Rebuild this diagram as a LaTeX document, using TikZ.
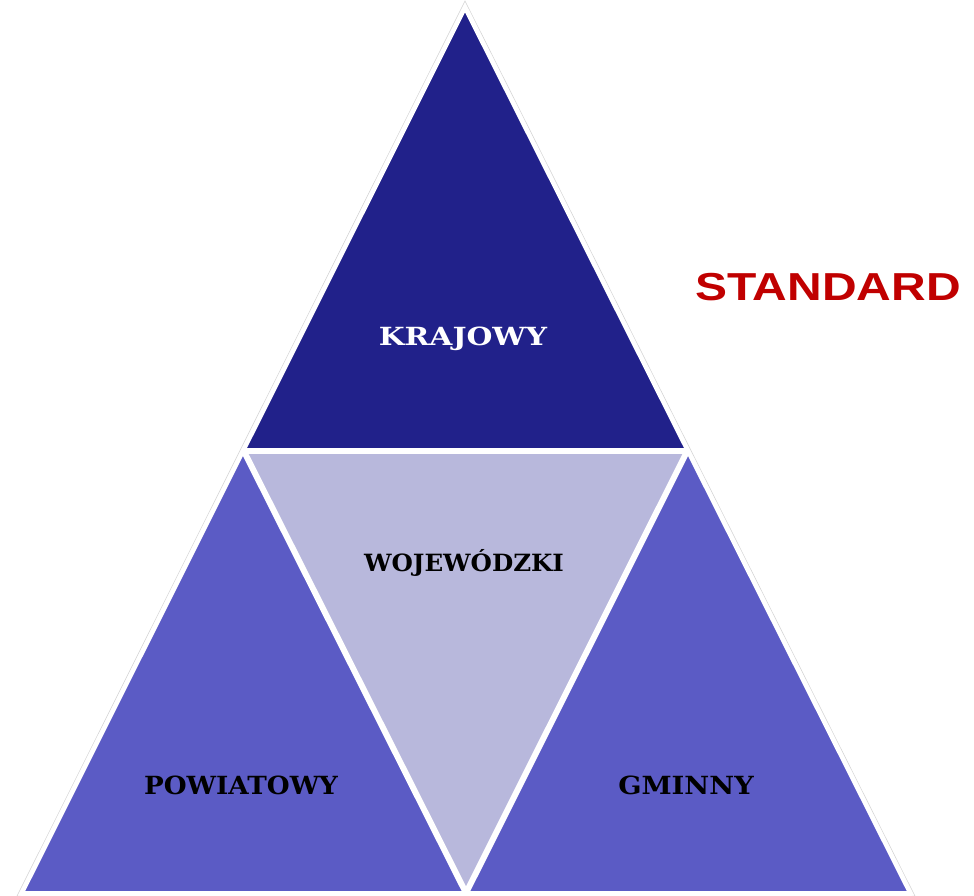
\documentclass[tikz,border=0pt]{standalone}
\usepackage{fontspec}
\setmainfont{DejaVu Serif}
\newfontfamily\redfont{Liberation Sans}
\definecolor{navy}{HTML}{21218A}
\definecolor{midblue}{HTML}{5B5BC5}
\definecolor{paleblue}{HTML}{B8B8DC}
\definecolor{stdred}{HTML}{C00000}
\begin{document}
\begin{tikzpicture}[x=1pt,y=-1pt,
  lbl/.style={font=\bfseries\fontsize{25}{28}\selectfont,inner sep=0pt}]
\useasboundingbox (0,0) rectangle (974,896);
% outer halo
\draw[gray!35,line width=0.5pt,line join=miter] (465,1) -- (915,896) -- (17,896) -- cycle;
\fill[white] (465,4) -- (912,896) -- (20,896) -- cycle;
% corners
\coordinate (A) at (465,8);
\coordinate (L) at (22,893);
\coordinate (R) at (910,893);
\coordinate (ML) at (243.5,450.5);
\coordinate (MR) at (687.5,450.5);
\coordinate (MB) at (466,893);
\fill[navy] (A) -- (MR) -- (ML) -- cycle;
\fill[midblue] (ML) -- (MB) -- (L) -- cycle;
\fill[midblue] (MR) -- (R) -- (MB) -- cycle;
\fill[paleblue] (ML) -- (MR) -- (MB) -- cycle;
\draw[white,line width=6pt] (ML) -- (MR);
\draw[white,line width=6pt] (ML) -- (MB) -- (MR);
\draw[white,line width=4pt,line join=miter] (A) -- (R) -- (L) -- cycle;
\node[lbl,text=white,xscale=1.19] (kraj) at (463,339) {KRAJOWY};
\node[lbl,xscale=0.98,yscale=0.95] (woj) at (464,563) {WOJEWÓDZKI};
\node[lbl,xscale=1.05] (pow) at (241,785) {POWIATOWY};
\node[lbl,xscale=1.09] (gmi) at (686,785) {GMINNY};
\node[font=\redfont\bfseries\fontsize{39}{44}\selectfont,text=stdred,inner sep=0pt,xscale=1.23] (std) at (828,287) {STANDARD};
\end{tikzpicture}
\end{document}
